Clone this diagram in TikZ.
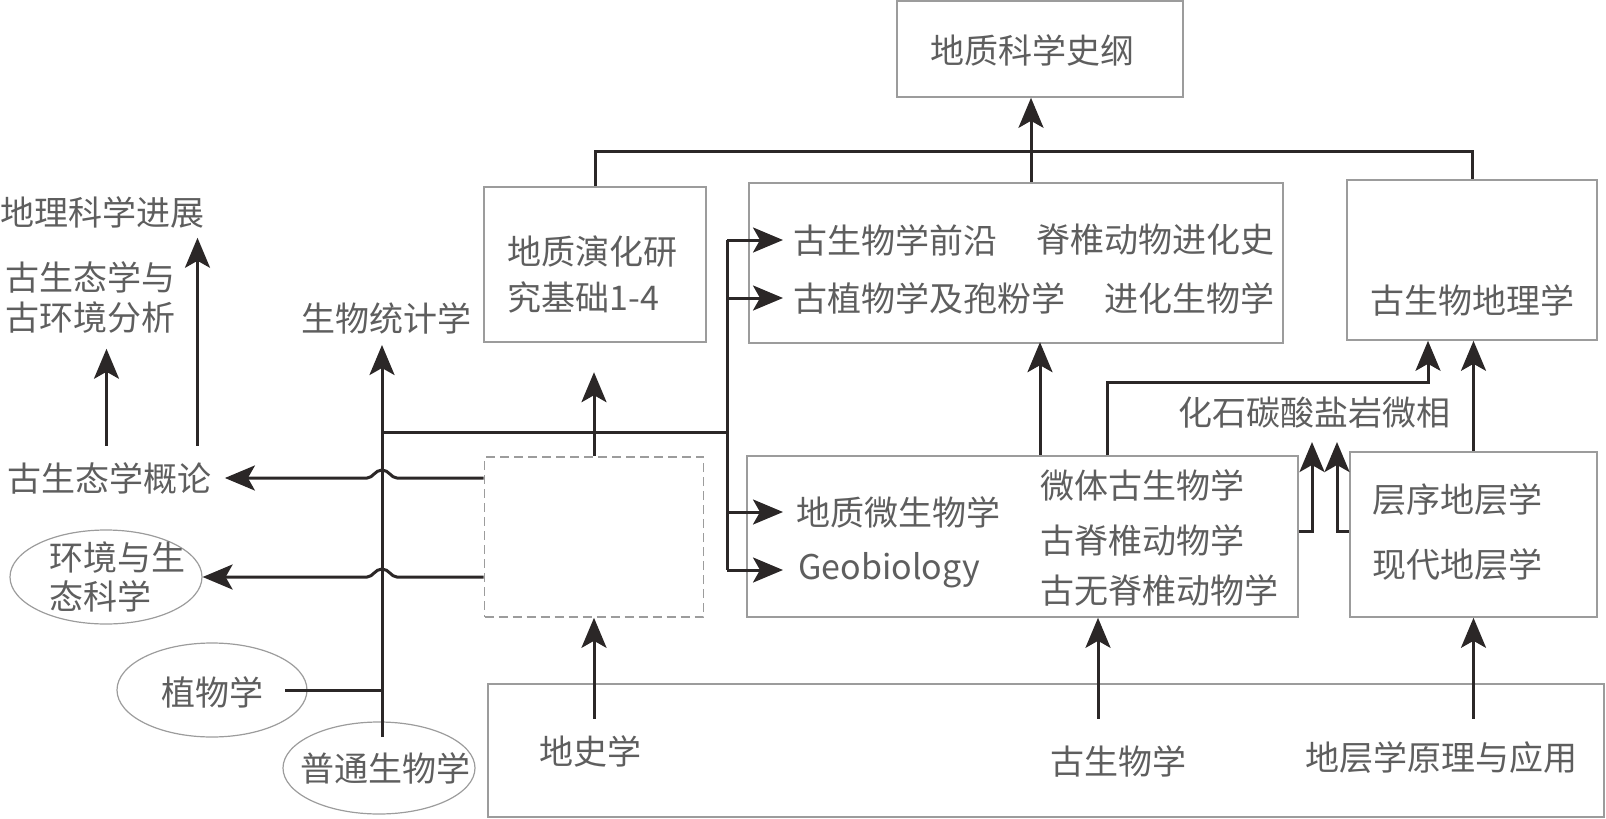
\documentclass[tikz,border=0pt]{standalone}
\usepackage{fontspec}
\setmainfont{Noto Sans CJK SC}
\usetikzlibrary{arrows.meta,shapes.geometric}
\definecolor{boxgray}{HTML}{9C9C9C}
\definecolor{txtgray}{HTML}{5E5E5E}
\definecolor{linedark}{HTML}{2B2727}

\begin{document}
\begin{tikzpicture}[x=0.5pt,y=-0.5pt,
  box/.style={draw=boxgray,line width=0.8pt,inner sep=0pt},
  oval/.style={draw=boxgray,line width=0.6pt,ellipse,inner sep=0pt},
  lbl/.style={text=txtgray,font=\fontsize{17pt}{20pt}\selectfont,inner sep=0pt},
  link/.style={draw=linedark,line width=1.5pt},
  arr/.style={link,-{Stealth[length=15pt,width=12.5pt,inset=3.5pt]}}]
\useasboundingbox (0,0) rectangle (1606,819);

% boxes
\node[box,minimum width=143pt,minimum height=48pt] (hist) at (1040,49) {};
\node[box,minimum width=111pt,minimum height=77.5pt] (evo) at (595,264.5) {};
\node[box,minimum width=267pt,minimum height=80pt] (front) at (1016,263) {};
\node[box,minimum width=125pt,minimum height=80pt] (biogeo) at (1472,260) {};
\node[box,dash pattern=on 4.5pt off 2.5pt,minimum width=109.5pt,minimum height=80pt] (blank) at (594,537) {};
\node[box,minimum width=275.5pt,minimum height=80.5pt] (micro) at (1022.5,536.5) {};
\node[box,minimum width=123.5pt,minimum height=82.5pt] (strat) at (1473.5,534.5) {};
\node[box,minimum width=558pt,minimum height=66.5pt] (base) at (1046,750.5) {};

% ellipses
\node[oval,minimum width=96pt,minimum height=47pt] (env) at (106,577) {};
\node[oval,minimum width=95pt,minimum height=47pt] (bot) at (212,690) {};
\node[oval,minimum width=96pt,minimum height=46pt] (gen) at (379,768) {};

% texts
\node[lbl] (t_hist) at (1032,50) {地质科学史纲};
\node[lbl,anchor=west] (t_geog) at (0,212) {地理科学进展};
\node[lbl,anchor=west] (t_env1) at (5,277) {古生态学与};
\node[lbl,anchor=west] (t_env2) at (5,318) {古环境分析};
\node[lbl] (stat) at (386,318) {生物统计学};
\node[lbl] (t_paleo) at (109.5,478) {古生态学概论};
\node[lbl,anchor=west] (t_evo1) at (507,252) {地质演化研};
\node[lbl,anchor=west] (t_evo2) at (507,297) {究基础1-4};
\node[lbl,anchor=west] (t_fr1) at (793,240) {古生物学前沿};
\node[lbl,anchor=east] (t_fr3) at (1275,240) {脊椎动物进化史};
\node[lbl,anchor=west] (t_fr2) at (793,298) {古植物学及孢粉学};
\node[lbl,anchor=east] (t_fr4) at (1275,298) {进化生物学};
\node[lbl] (t_bgeo) at (1472,300) {古生物地理学};
\node[lbl,anchor=west] (t_carb) at (1178,413) {化石碳酸盐岩微相};
\node[lbl,anchor=west] (t_gm) at (796,512) {地质微生物学};
\node[lbl,anchor=west] (t_geo) at (798,570) {Geobiology};
\node[lbl,anchor=west] (t_mi1) at (1040,485) {微体古生物学};
\node[lbl,anchor=west] (t_mi2) at (1040,540) {古脊椎动物学};
\node[lbl,anchor=west] (t_mi3) at (1040,590) {古无脊椎动物学};
\node[lbl,anchor=west] (t_st1) at (1372,500) {层序地层学};
\node[lbl,anchor=west] (t_st2) at (1372,565) {现代地层学};
\node[lbl] (t_hs) at (590,751) {地史学};
\node[lbl] (t_pal) at (1118,761) {古生物学};
\node[lbl,anchor=west] (t_prin) at (1305,758) {地层学原理与应用};
\node[lbl,anchor=west] (t_env3) at (49,558) {环境与生};
\node[lbl,anchor=west] (t_env4) at (49,596) {态科学};
\node[lbl] (t_bot) at (212,692) {植物学};
\node[lbl] (t_gen) at (385,768) {普通生物学};

% top
\draw[link] (evo.north) -- ++(0,-35) -| (biogeo.north);
\draw[arr] ([xshift=7.5pt]front.north) -- ([xshift=7.5pt]front.north |- hist.south);

% left trunk
\coordinate (trunk) at (382,737);
\coordinate (statTip) at (382,345);
\coordinate (hub) at (727,432);
\draw[arr] (trunk) -- (statTip);
\draw[link] (trunk |- hub) -- (hub);
\draw[link] (hub |- t_fr1) -- (hub |- t_geo);
\draw[arr] (hub |- t_fr1) -- ([xshift=-5pt]t_fr1.west);
\draw[arr] (hub |- t_fr2) -- ([xshift=-5pt]t_fr2.west);
\draw[arr] (hub |- t_gm) -- ([xshift=-6.5pt]t_gm.west);
\draw[arr] (hub |- t_geo) -- ([xshift=-7.5pt]t_geo.west);
\draw[arr] (blank.north) -- ++(0,-84);
\draw[link] ([xshift=36.5pt]bot.center) -- (trunk |- bot.center);

% jumps over the trunk
\draw[arr] ([yshift=29.5pt]blank.west) -- (397,478) .. controls (391,478) and (389,470) .. (382,470) .. controls (375,470) and (373,478) .. (367,478) -- ([xshift=6.5pt]t_paleo.east);
\draw[arr] ([yshift=-20pt]blank.west) -- (397,577) .. controls (391,577) and (389,569) .. (382,569) .. controls (375,569) and (373,577) .. (367,577) -- (env.east);

% paleoecology
\draw[arr] ([xshift=-1.5pt,yshift=8pt]t_paleo.north) -- ++(0,-97);
\draw[arr] ([xshift=44pt,yshift=8pt]t_paleo.north) -- ++(0,-208);

% right side
\draw[arr] ([xshift=8.75pt]micro.north) -- ++(0,-113);
\draw[arr] ([xshift=42.25pt]micro.north) -- ++(0,-73) -| ([xshift=-22pt]biogeo.south);
\draw[arr] (strat.north) -- (strat.north |- biogeo.south);
\coordinate (carbL) at (1312,442);
\coordinate (carbR) at (1337,442);
\draw[arr] ([yshift=2.75pt]micro.east) -| (carbL);
\draw[arr] ([yshift=1.75pt]strat.west) -| (carbR);

% bottom
\draw[arr] (blank.south) ++(0,101) -- (blank.south);
\draw[arr] ([xshift=37.75pt]micro.south) ++(0,101) -- ([xshift=37.75pt]micro.south);
\draw[arr] (strat.south) ++(0,101) -- (strat.south);
\end{tikzpicture}
\end{document}
